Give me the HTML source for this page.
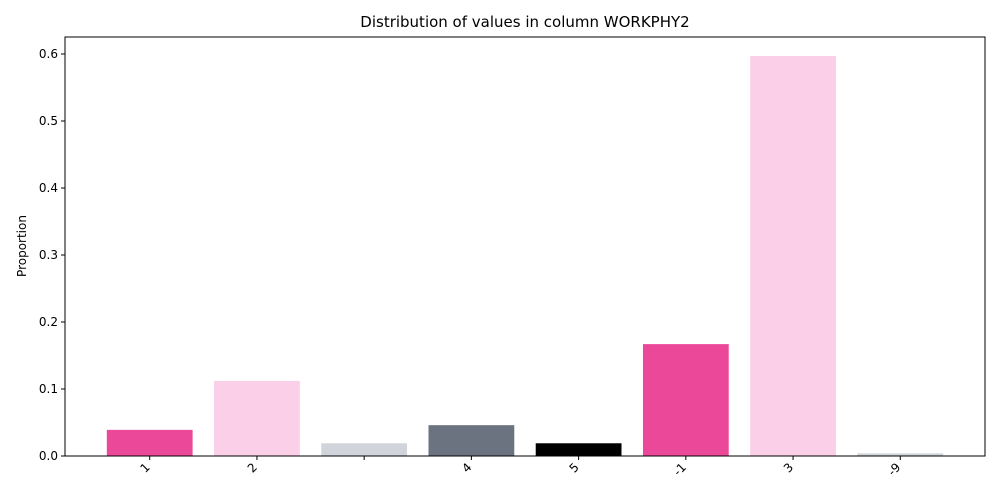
<!DOCTYPE html>
<html><head><meta charset="utf-8"><style>body{margin:0;background:#fff}svg{display:block;font-family:"DejaVu Sans","Liberation Sans",sans-serif}</style></head>
<body>
<svg id="chart" width="1000" height="500" xmlns="http://www.w3.org/2000/svg">
<text x="525" y="27" font-size="15" text-anchor="middle">Distribution of values in column WORKPHY2</text>
<text transform="translate(26,246) rotate(-90)" font-size="12" text-anchor="middle">Proportion</text>
<g id="bars"></g><g id="yticks"></g><g id="xticks"></g>
<rect x="65" y="37" width="920" height="419" fill="none" stroke="#000" stroke-width="1"/>
</svg>
<script>
const categories=["1","2","","4","5","-1","3","-9"];
const values=[0.039,0.112,0.019,0.046,0.019,0.167,0.597,0.004];
const colors=["#ec4899","#fbcfe8","#d1d5db","#6b7280","#000000","#ec4899","#fbcfe8","#d1d5db"];
const yTicks=[0,0.1,0.2,0.3,0.4,0.5,0.6];
const NS="http://www.w3.org/2000/svg";
const L=65,R=985,T=37,B=456;
const xmin=-0.79,xmax=categories.length-1+0.79;
const x=i=>L+(i-xmin)/(xmax-xmin)*(R-L);
const y=v=>B-v/0.6*(B-54);
function mk(t,a,p){const e=document.createElementNS(NS,t);for(const k in a)e.setAttribute(k,a[k]);p.appendChild(e);return e;}
const bw=0.8*(R-L)/(xmax-xmin);
const gb=document.getElementById('bars'),gx=document.getElementById('xticks'),gy=document.getElementById('yticks');
categories.forEach((c,i)=>{
 const r=mk('rect',{x:x(i)-bw/2,y:y(values[i]),width:bw,height:B-y(values[i]),fill:colors[i]},gb);
 
 
 const tk=mk('line',{x1:x(i),x2:x(i),y1:B,y2:B+4,stroke:'#000'},gx);
 
 
 const t=mk('text',{x:0,y:0,'font-size':12,'text-anchor':'end',transform:`translate(${x(i)+1},${B+12}) rotate(-45)`},gx);
 t.textContent=c;
 
 
});
yTicks.forEach(v=>{
 const tk=mk('line',{x1:L-4,x2:L,y1:y(v),y2:y(v),stroke:'#000'},gy);
 
 
 const t=mk('text',{x:L-7,y:y(v)+4,'font-size':12,'text-anchor':'end'},gy);
 t.textContent=v.toFixed(1);
 
 
});
</script>
</body></html>
